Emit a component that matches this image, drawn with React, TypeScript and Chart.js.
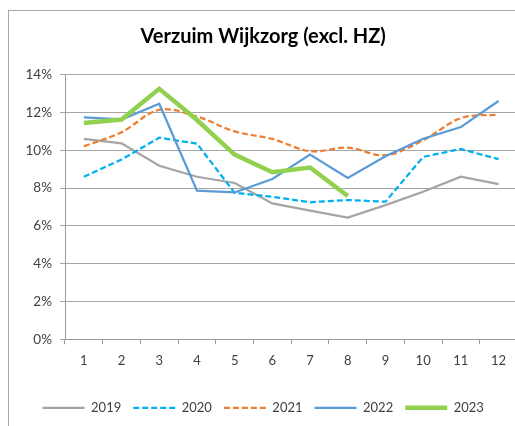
import { useEffect, useRef } from "react";
import { Chart, registerables } from "chart.js";

Chart.register(...registerables);

const months = ["1", "2", "3", "4", "5", "6", "7", "8", "9", "10", "11", "12"];
const y2019 = [10.61, 10.37, 9.18, 8.6, 8.27, 7.19, 6.81, 6.44, 7.1, 7.81, 8.6, 8.21];
const y2020 = [8.6, 9.51, 10.67, 10.35, 7.75, 7.54, 7.25, 7.37, 7.28, 9.65, 10.07, 9.53];
const y2021 = [10.21, 10.96, 12.14, 11.79, 11.0, 10.6, 9.95, 10.14, 9.74, 10.53, 11.7, 11.89];
const y2022 = [11.74, 11.63, 12.46, 7.86, 7.77, 8.48, 9.77, 8.54, 9.68, 10.61, 11.23, 12.61];
const y2023 = [11.44, 11.63, 13.25, 11.6, 9.77, 8.84, 9.09, 7.58];
const seriesLabels = ["2019", "2020", "2021", "2022", "2023"];
const yMin = 0;
const yMax = 14;
const yStep = 2;
const title = "Verzuim Wijkzorg (excl. HZ)";

const FONT = "Lato, 'Liberation Sans', sans-serif";

export default function App() {
  const ref = useRef<HTMLCanvasElement | null>(null);

  useEffect(() => {
    if (!ref.current) return;
    const chart = new Chart(ref.current, {
      type: "line",
      data: {
        labels: months,
        datasets: [
          { label: seriesLabels[0], data: y2019, borderColor: "#A5A5A5", backgroundColor: "#A5A5A5", borderWidth: 2.25, pointRadius: 0, order: 5 },
          { label: seriesLabels[1], data: y2020, borderColor: "#00B0F0", backgroundColor: "#00B0F0", borderWidth: 2.25, borderDash: [6, 3], pointRadius: 0, order: 4 },
          { label: seriesLabels[2], data: y2021, borderColor: "#ED7D31", backgroundColor: "#ED7D31", borderWidth: 2.25, borderDash: [6, 3], pointRadius: 0, tension: 0.35, order: 3 },
          { label: seriesLabels[3], data: y2022, borderColor: "#5B9BD5", backgroundColor: "#5B9BD5", borderWidth: 2.25, pointRadius: 0, order: 2 },
          { label: seriesLabels[4], data: y2023, borderColor: "#92D050", backgroundColor: "#92D050", borderWidth: 4.5, pointRadius: 0, order: 1 },
        ],
      },
      options: {
        responsive: false,
        animation: false,
        layout: { padding: { left: 0, right: 3.6, top: 0, bottom: 16.7 } },
        plugins: {
          tooltip: { enabled: false },
          title: {
            display: true,
            text: title,
            color: "#000",
            font: { family: FONT, size: 20, weight: "bold" },
            padding: { top: 14, bottom: 25.7 },
          },
          legend: {
            position: "bottom",
            labels: {
              usePointStyle: true,
              pointStyle: "line",
              pointStyleWidth: 42,
              padding: 12,
              color: "#404040",
              font: { family: FONT, size: 13 },
              generateLabels: (c: any) =>
                c.data.datasets.map((ds: any, i: number) => ({
                  text: ds.label,
                  strokeStyle: ds.borderColor,
                  fillStyle: ds.borderColor,
                  lineWidth: ds.borderWidth,
                  lineDash: ds.borderDash || [],
                  pointStyle: "line",
                  datasetIndex: i,
                  hidden: false,
                  fontColor: "#404040",
                })),
            },
          },
        },
        scales: {
          x: {
            type: "category",
            offset: true,
            grid: { offset: true, drawOnChartArea: false, drawTicks: true, tickLength: 5, color: "#9a9a9a" },
            border: { color: "#9a9a9a" },
            ticks: { color: "#404040", font: { family: FONT, size: 13 }, padding: 9, maxRotation: 0, autoSkip: false },
            afterFit: (s: any) => { s.height = 50; },
          },
          y: {
            min: yMin,
            max: yMax,
            grid: { color: "#a6a6a6", tickLength: 5 },
            border: { color: "#9a9a9a" },
            ticks: {
              stepSize: yStep,
              color: "#404040",
              font: { family: FONT, size: 13.5 },
              padding: 8,
              callback: (v: any) => `${v}%`,
            },
            afterFit: (s: any) => { s.width = 56; },
          },
        },
      },
    });
    return () => chart.destroy();
  }, []);

  return (
    <div
      style={{
        position: "absolute",
        left: 8,
        top: 10,
        width: 507,
        height: 416,
        overflow: "hidden",
        borderLeft: "1px solid #a6a6a6",
        borderTop: "1px solid #a6a6a6",
        boxSizing: "border-box",
      }}
    >
      <canvas ref={ref} width={512} height={430} style={{ display: "block" }} />
    </div>
  );
}
